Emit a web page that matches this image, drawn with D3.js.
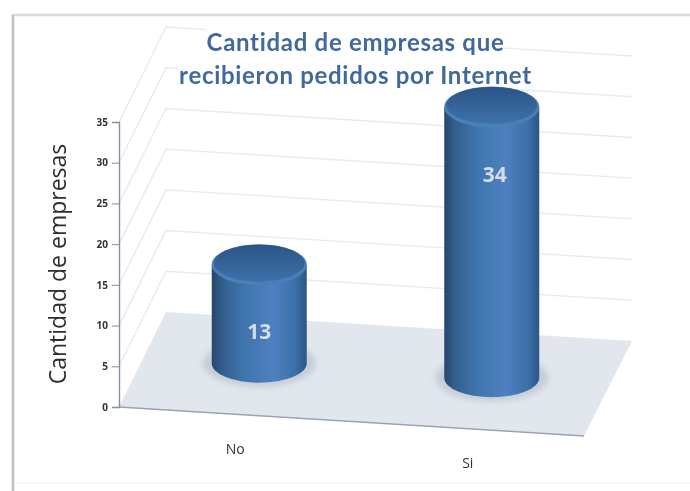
<!DOCTYPE html>
<html><head><meta charset="utf-8">
<script src="https://cdn.jsdelivr.net/npm/d3@7"></script>
<style>html,body{margin:0;padding:0;background:#fff}svg{display:block;filter:blur(0.7px)}</style>
</head><body><svg id="c" width="690" height="491"></svg>
<script>
const categories = ["No", "Si"];
const values = [13, 34];
const yTicks = [0, 5, 10, 15, 20, 25, 30, 35];
const titleLines = ["Cantidad de empresas que", "recibieron pedidos por Internet"];
const yTitle = "Cantidad de empresas";

const W = 690, H = 491;
const svg = d3.select("#c").attr("viewBox", [0, 0, W, H]);
const defs = svg.append("defs");

const y = d3.scaleLinear().domain([0, 35]).range([407, 122]);
// floor plane: front edge runs x0..x1, dropping "drop" px per px; back wall is offset by (dx,dy)
const x0 = 119, x1 = 584, dx = 47, dy = -95, drop = 29 / 465;
const frontY = x => 407 + (x - x0) * drop;
const xBand = d3.scaleBand().domain(categories).range([x0 + 24, x1 + 24]).paddingInner(0.5).paddingOuter(0.25);
const hScale = d3.scaleLinear().domain([0, 35]).range([0, 287]);

// frame
svg.append("path").attr("d", `M13,491V15H690`).attr("fill", "none").attr("stroke", "#dcdcdc").attr("stroke-width", 2.5);
svg.append("path").attr("d", `M13,15V491`).attr("fill", "none").attr("stroke", "#c2c2c2").attr("stroke-width", 2.5);
svg.append("path").attr("d", `M14,483H690`).attr("fill", "none").attr("stroke", "#f5f5f5").attr("stroke-width", 1.5);

// floor
svg.append("path")
  .attr("d", d3.line()([[x0, y(0)], [x0 + dx, y(0) + dy], [x1 + dx + 1, frontY(x1) + dy], [x1, frontY(x1)]]) + "Z")
  .attr("fill", "#e2e7ee");
svg.append("line").attr("x1", x0).attr("y1", y(0)).attr("x2", x1).attr("y2", frontY(x1))
  .attr("stroke", "#98a4b5").attr("stroke-width", 1.5);

// grid lines on side and back walls
const grid = svg.append("g").attr("fill", "none").attr("stroke", "#e8eaed").attr("stroke-width", 1.4);
yTicks.filter(t => t > 0).forEach(t => {
  grid.append("path").attr("d", d3.line()([
    [x0, y(t)], [x0 + dx, y(t) + dy], [x1 + dx + 1, y(t) + dy + (x1 - x0) * drop]
  ]));
});

// axis
const axis = d3.axisLeft(y).tickValues(yTicks).tickSize(7).tickPadding(4).tickFormat(d3.format("d"));
const ag = svg.append("g").attr("transform", `translate(${x0},0)`).call(axis);
ag.select(".domain").attr("stroke", "#8490a2").attr("stroke-width", 1.4);
ag.selectAll(".tick line").attr("stroke", "#8490a2");
ag.selectAll("text").attr("fill", "#333").attr("font-family", "Open Sans").attr("font-weight", 700).attr("font-size", 10);

// chart title, each line on its own white plate that masks the grid behind it
const titleG = svg.append("g");
titleLines.forEach((d, i) => {
  const plate = titleG.append("rect").attr("fill", "#fff");
  const t = titleG.append("text")
    .attr("x", 355.5).attr("y", 51 + i * 33)
    .attr("text-anchor", "middle").attr("font-family", "Lato").attr("font-weight", 700).attr("font-size", 24)
    .attr("letter-spacing", 0.7).attr("fill", "#41699b").text(d);
  const b = t.node().getBBox();
  plate.attr("x", b.x).attr("y", b.y).attr("width", b.width).attr("height", b.height);
});

// cylinders
const rx = 47.5, ry = 19.5;
const body = defs.append("linearGradient").attr("id", "body");
[[0, "#27466f"], [0.12, "#33608f"], [0.35, "#3f76ad"], [0.65, "#4f7fc0"], [0.88, "#3c70a8"], [1, "#2c5686"]]
  .forEach(s => body.append("stop").attr("offset", s[0]).attr("stop-color", s[1]));
const cap = defs.append("linearGradient").attr("id", "cap").attr("x1", 0).attr("y1", 0).attr("x2", 0).attr("y2", 1);
[[0, "#2b5486"], [1, "#3e72aa"]].forEach(s => cap.append("stop").attr("offset", s[0]).attr("stop-color", s[1]));
const soft = defs.append("filter").attr("id", "soft").attr("x", "-20%").attr("y", "-40%").attr("width", "140%").attr("height", "180%");
soft.append("feGaussianBlur").attr("stdDeviation", 3);

const bars = svg.append("g").selectAll("g").data(categories).join("g");
bars.each(function (c, i) {
  const g = d3.select(this);
  const cx = xBand(c) + xBand.bandwidth() / 2;
  const base = frontY(cx) - 52.5;
  const h = hScale(values[i]) - 8;
  g.append("ellipse").attr("cx", cx).attr("cy", base).attr("rx", rx + 9).attr("ry", ry + 4)
    .attr("fill", "#bcc5d1").attr("opacity", 0.8).attr("filter", "url(#soft)");
  g.append("path").attr("fill", "url(#body)").attr("d",
    `M${cx - rx},${base - h}V${base}A${rx},${ry} 0 0 0 ${cx + rx},${base}V${base - h}Z`);
  g.append("ellipse").attr("cx", cx).attr("cy", base - h).attr("rx", rx).attr("ry", ry + 1).attr("fill", "#4a80b8");
  g.append("ellipse").attr("cx", cx).attr("cy", base - h - 1.5).attr("rx", rx - 2).attr("ry", ry - 1).attr("fill", "url(#cap)");
  g.append("text").attr("x", cx + (i ? 3 : 0)).attr("y", base - hScale(values[i]) * (i ? 0.73 : 0.30))
    .attr("text-anchor", "middle").attr("dominant-baseline", "central")
    .attr("font-family", "Open Sans").attr("font-weight", 700).attr("font-size", 21)
    .attr("fill", "#d0dded").text(values[i]);
});

// category labels
svg.append("g").selectAll("text").data(categories).join("text")
  .attr("x", c => xBand(c) + xBand.bandwidth() / 2 - 24)
  .attr("y", c => frontY(xBand(c) + xBand.bandwidth() / 2) + 38)
  .attr("text-anchor", "middle").attr("font-family", "Open Sans").attr("font-size", 14).attr("fill", "#333")
  .text(c => c);

// axis title
svg.append("text").attr("transform", "translate(66,264) rotate(-90)").attr("text-anchor", "middle")
  .attr("font-family", "Open Sans").attr("font-size", 23).attr("fill", "#2e2e2e").text(yTitle);
</script></body></html>
